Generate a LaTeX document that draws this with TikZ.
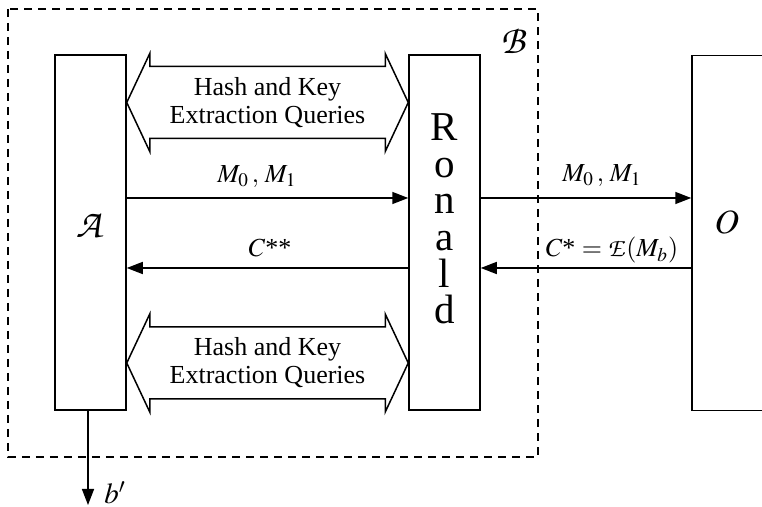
\documentclass[tikz,border=0pt]{standalone}
\usepackage{mathptmx}
\usepackage{fontspec}
\setmainfont{Liberation Serif}
\DeclareMathAlphabet{\mathzc}{OT1}{pzc}{m}{it}
\usetikzlibrary{arrows.meta,calc}
\tikzset{
  blk/.style={draw, line width=0.75pt, minimum width=35.5pt, minimum height=177.5pt, inner sep=0pt},
  msg/.style={line width=0.75pt, -{Triangle[length=8pt,width=6pt]}},
  fat/.style={draw, line width=0.75pt, line join=miter},
  lbl/.style={font=\fontsize{13}{14}\selectfont, inner sep=0pt},
  dbox/.style={draw, line width=0.75pt, dash pattern=on 4pt off 3pt}
}
\begin{document}
\begin{tikzpicture}[x=0.5pt,y=-0.5pt]
\useasboundingbox (0,0) rectangle (762,507);
\clip (0,0) rectangle (762,507);
% dashed adversary box B
\draw[dbox] (8,9) rectangle (538,457);
\node[lbl, font=\fontsize{20}{20}\selectfont] (Blab) at (514,41) {$\mathzc{B}$};
% blocks
\node[blk] (A) at (90.5,232.5) {};
\node[lbl, font=\fontsize{20}{20}\selectfont] (Alab) at (90,225) {$\mathzc{A}$};
\node[blk] (R) at (444.5,232.5) {};
\node[lbl, align=center, font=\fontsize{20.5}{18.3}\selectfont] (Rlab) at (444.5,219) {R\\o\\n\\a\\l\\d};
\node[blk, minimum width=50pt] (O) at (742,233) {};
\node[lbl, font=\fontsize{17}{18}\selectfont] (Olab) at (727,222) {$O$};
% row coordinates
\coordinate (q1) at (0,102.5);
\coordinate (q2) at (0,363);
\coordinate (y1) at (0,198);
\coordinate (y2) at (0,268);
% fat double arrows (hash and key extraction queries)
\foreach \q/\n in {q1/H1,q2/H2}{
  \draw[fat] let \p1=(A.east |- \q), \p2=(R.west |- \q) in
    (\x1,\y1) -- (\x1+11.5pt,\y1-24.5pt) -- (\x1+11.5pt,\y1-18pt)
    -- (\x2-11.5pt,\y2-18pt) -- (\x2-11.5pt,\y2-24.5pt) -- (\x2,\y2)
    -- (\x2-11.5pt,\y2+24.5pt) -- (\x2-11.5pt,\y2+18pt)
    -- (\x1+11.5pt,\y1+18pt) -- (\x1+11.5pt,\y1+24.5pt) -- cycle;
  \node[lbl, align=center] (\n) at ($(A.east |- \q)!0.5!(R.west |- \q)$) {Hash and Key\\Extraction Queries};
}
% message arrows
\draw[msg] (A.east |- y1) -- (R.west |- y1);
\node[lbl, anchor=base] (m1) at (257,183) {$M_0\,,\, M_1$};
\draw[msg] (R.west |- y2) -- (A.east |- y2);
\node[lbl, anchor=base] (c1) at (270,257) {$C$**};
\draw[msg] (R.east |- y1) -- (O.west |- y1);
\node[lbl, anchor=base] (m2) at (602,182) {$M_0\,,\, M_1$};
\draw[msg] (O.west |- y2) -- (R.east |- y2);
\node[lbl, anchor=base] (c2) at (612,257) {$C$* $= {\textstyle\mathzc{E}}\hspace{0pt}(M_b)$};
% output b'
\coordinate (bout) at (88,505);
\draw[msg] (A.south -| bout) -- (bout);
\node[lbl, font=\fontsize{14.5}{16}\selectfont, anchor=west] (bl) at (104,493) {$b'$};
\end{tikzpicture}
\end{document}
